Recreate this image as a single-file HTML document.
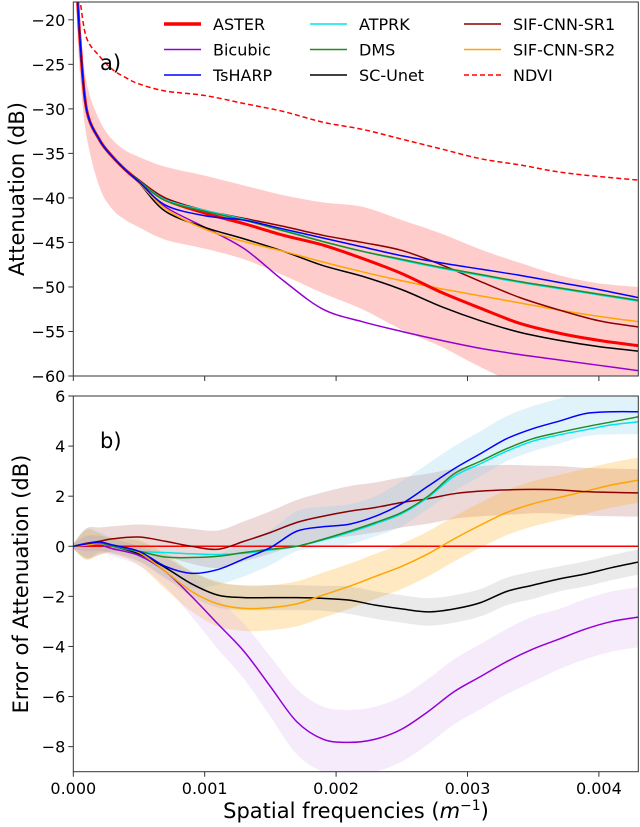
<!DOCTYPE html>
<html><head><meta charset="utf-8"><style>
html,body{margin:0;padding:0;background:#fff;}
svg{display:block;font-family:"DejaVu Sans","Liberation Sans",sans-serif;}
</style></head><body>
<svg id="chart" width="640" height="827" viewBox="0 0 640 827" xmlns="http://www.w3.org/2000/svg">
<defs>
<clipPath id="clipA"><rect x="73.3" y="2" width="565" height="374"/></clipPath>
<clipPath id="clipB"><rect x="73.3" y="396" width="565" height="375.7"/></clipPath>
</defs>
<g id="gA" clip-path="url(#clipA)"></g>
<g id="gB" clip-path="url(#clipB)"></g>
<g id="axes"></g>
<text x="100" y="70" font-size="21">a)</text>
<text x="100" y="448" font-size="21">b)</text>
<text transform="translate(24,189) rotate(-90)" text-anchor="middle" font-size="21">Attenuation (dB)</text>
<text transform="translate(28,584) rotate(-90)" text-anchor="middle" font-size="21">Error of Attenuation (dB)</text>
<text x="356" y="818" text-anchor="middle" font-size="21">Spatial frequencies (<tspan font-style="italic">m</tspan><tspan font-size="14" dy="-8">−1</tspan><tspan dy="8">)</tspan></text>
<g id="legend"></g>
</svg>
<script>
// ---------- data ----------
const xsA = [0,0.00002,0.00005,0.0001,0.0002,0.0003,0.0004,0.0005,0.0007,0.001,0.0013,0.0016,0.0019,0.0022,0.0025,0.0028,0.0031,0.0034,0.0037,0.004,0.0043];
const startA = [-10,-14,-22,-30,-33.5,-35.4,-36.9];
const asterA = startA.concat([-38.1,-40.2,-41.7,-42.9,-44.2,-45.3,-46.8,-48.5,-50.6,-52.4,-54.1,-55.2,-56.0,-56.6]);
const sr1A = startA.concat([-38.0,-40.0,-41.4,-42.3,-43.2,-44.2,-45.0,-45.9,-47.5,-49.4,-51.2,-52.6,-53.8,-54.5]);
const tsharpA = startA.concat([-38.2,-40.8,-42.0,-42.5,-43.5,-44.5,-45.5,-46.5,-47.3,-48.0,-48.7,-49.5,-50.3,-51.2]);
const dmsA = startA.concat([-38.1,-40.3,-41.5,-42.5,-43.7,-44.9,-46.0,-46.9,-47.8,-48.6,-49.4,-50.1,-50.8,-51.5]);
const atprkA = startA.concat([-38.1,-40.2,-41.4,-42.4,-43.6,-44.9,-46.0,-47.0,-47.9,-48.7,-49.5,-50.2,-50.9,-51.6]);
const sr2A = startA.concat([-38.3,-41.2,-43.5,-44.9,-46.0,-47.2,-48.3,-49.3,-50.2,-51.0,-51.8,-52.6,-53.3,-53.9]);
const unetA = startA.concat([-38.3,-41.5,-43.3,-44.6,-46.0,-47.6,-48.8,-50.3,-52.2,-53.8,-55.1,-56.0,-56.7,-57.2]);
const bicubicA = startA.concat([-38.3,-41.0,-43.3,-45.7,-49.3,-52.5,-53.9,-55.0,-56.0,-56.9,-57.6,-58.2,-58.8,-59.4]);
const ndviA = [-5,-16,-17.8,-22,-24.1,-25.6,-26.5,-27.2,-28.0,-28.5,-29.4,-30.3,-31.5,-32.3,-33.4,-34.5,-35.6,-36.3,-37.1,-37.6,-38.0];
const bandUpA = [-10,-14,-20,-27,-31.3,-33.5,-34.7,-35.4,-36.5,-37.5,-38.6,-39.7,-40.5,-41.0,-42.5,-44.0,-45.8,-47.3,-48.7,-49.6,-50.0];
const bandLoA = [-10,-18,-26,-33,-38.8,-41.3,-42.5,-43.3,-44.7,-45.7,-46.9,-48.7,-50.7,-52.5,-54.8,-56.7,-59,-61,-62,-63,-63.5];

const xsB = [0,0.0001,0.0002,0.0003,0.0005,0.0007,0.0009,0.0011,0.0013,0.0015,0.0017,0.0019,0.0021,0.0023,0.0025,0.0027,0.0029,0.0031,0.0033,0.0035,0.0037,0.0039,0.0041,0.0043];
const tsharpB = [0,0.1,0.17,0.05,-0.2,-0.8,-1.08,-0.93,-0.5,-0.05,0.6,0.78,0.88,1.2,1.7,2.4,3.1,3.7,4.3,4.7,5.0,5.3,5.37,5.37];
const dmsB = [0,0.1,0.13,0.0,-0.2,-0.43,-0.45,-0.4,-0.25,-0.12,0.0,0.28,0.6,0.95,1.35,2.0,2.9,3.4,3.9,4.3,4.55,4.77,4.97,5.17];
const atprkB = [0,0.1,0.13,0.0,-0.2,-0.25,-0.3,-0.33,-0.28,-0.15,0.0,0.25,0.55,0.9,1.3,1.95,2.8,3.3,3.8,4.2,4.45,4.65,4.85,4.97];
const sr1B = [0,0.12,0.2,0.3,0.37,0.2,0.0,-0.12,0.2,0.55,0.95,1.2,1.4,1.55,1.75,1.9,2.1,2.2,2.25,2.27,2.25,2.18,2.15,2.13];
const unetB = [0,0.1,0.12,0.0,-0.3,-0.85,-1.5,-1.95,-2.05,-2.05,-2.05,-2.08,-2.15,-2.35,-2.5,-2.62,-2.5,-2.25,-1.8,-1.55,-1.3,-1.1,-0.85,-0.63];
const sr2B = [0,0.05,0.1,0.0,-0.25,-1.0,-1.8,-2.3,-2.48,-2.45,-2.3,-1.95,-1.6,-1.2,-0.8,-0.3,0.3,0.85,1.35,1.7,1.95,2.2,2.45,2.64];
const bicubicB = [0,0.03,0.05,-0.1,-0.37,-1.0,-2.0,-3.1,-4.2,-5.6,-7.0,-7.7,-7.83,-7.7,-7.3,-6.6,-5.8,-5.2,-4.6,-4.1,-3.7,-3.3,-3.0,-2.83];
const asterB = xsB.map(() => 0);
const sr1W = [0.1,0.6,0.55,0.5,0.5,0.6,0.7,0.75,0.8,0.85,0.9,0.95,1.0,1.0,1.0,1.0,1.0,1.0,1.0,0.95,0.95,0.95,0.95,0.95];
const tsharpW = [0.1,0.6,0.4,0.3,0.4,0.5,0.6,0.6,0.7,0.7,0.8,0.8,0.8,0.8,0.9,0.9,0.9,0.9,0.9,0.9,0.9,0.9,0.9,0.9];
const sr2W = [0.1,0.6,0.4,0.3,0.5,0.7,0.8,0.9,0.9,0.9,0.9,0.9,0.9,0.9,0.9,0.9,0.9,0.9,0.9,0.9,0.9,0.9,0.9,0.9];
const unetW = [0.1,0.3,0.3,0.3,0.3,0.4,0.5,0.5,0.5,0.5,0.5,0.5,0.55,0.55,0.55,0.55,0.55,0.55,0.55,0.55,0.5,0.5,0.5,0.5];
const bicubicW = [0.1,0.4,0.3,0.3,0.4,0.6,0.8,1.0,1.1,1.2,1.3,1.3,1.3,1.3,1.3,1.3,1.3,1.3,1.3,1.3,1.2,1.2,1.2,1.2];

const xTicks = [0,0.001,0.002,0.003,0.004];
const xTickLabels = ["0.000","0.001","0.002","0.003","0.004"];
const yTicksA = [-20,-25,-30,-35,-40,-45,-50,-55,-60];
const yTicksB = [6,4,2,0,-2,-4,-6,-8];
const legendNames = ["ASTER","Bicubic","TsHARP","ATPRK","DMS","SC-Unet","SIF-CNN-SR1","SIF-CNN-SR2","NDVI"];

// ---------- scales ----------
const X0 = 73.3, X1 = 638.3, XMAX = 0.0043;
const sx = v => X0 + v / XMAX * (X1 - X0);
const syA = v => 2 + (-18 - v) / 42 * 374;
const syB = v => 396 + (6 - v) / 15 * 375.7;
const NS = "http://www.w3.org/2000/svg";
function mk(tag, attrs, parent) {
  const e = document.createElementNS(NS, tag);
  for (const k in attrs) e.setAttribute(k, attrs[k]);
  parent.appendChild(e);
  return e;
}
const gA = document.getElementById('gA'), gB = document.getElementById('gB'), axes = document.getElementById('axes');
function smooth(pts, first) {
  let d = (first ? 'M' : 'L') + pts[0][0].toFixed(2) + ',' + pts[0][1].toFixed(2);
  for (let i = 0; i < pts.length - 1; i++) {
    const p0 = pts[Math.max(0, i - 1)], p1 = pts[i], p2 = pts[i + 1], p3 = pts[Math.min(pts.length - 1, i + 2)];
    const c1 = [p1[0] + (p2[0] - p0[0]) / 6, p1[1] + (p2[1] - p0[1]) / 6];
    const c2 = [p2[0] - (p3[0] - p1[0]) / 6, p2[1] - (p3[1] - p1[1]) / 6];
    d += 'C' + c1[0].toFixed(2) + ',' + c1[1].toFixed(2) + ' ' + c2[0].toFixed(2) + ',' + c2[1].toFixed(2) + ' ' + p2[0].toFixed(2) + ',' + p2[1].toFixed(2);
  }
  return d;
}
function linePath(xs, ys, sy) { return smooth(xs.map((x, i) => [sx(x), sy(ys[i])]), true); }
function bandPath(xs, up, lo, sy) {
  const a = xs.map((x, i) => [sx(x), sy(up[i])]);
  const b = xs.map((x, i) => [sx(x), sy(lo[i])]).reverse();
  return smooth(a, true) + smooth(b, false) + 'Z';
}

// ---------- panel a ----------
let b = mk('path', {d: bandPath(xsA, bandUpA, bandLoA, syA), fill: '#ff9999', 'fill-opacity': 0.5}, gA);


const seriesA = [
  ['bicubic-line-a', bicubicA, '#9400d3', 1.5],
  ['sc-unet-line-a', unetA, '#000000', 1.5],
  ['sif-cnn-sr2-line-a', sr2A, '#ffa500', 1.5],
  ['aster-line-a', asterA, '#ff0000', 3],
  ['sif-cnn-sr1-line-a', sr1A, '#8b0000', 1.5],
  ['atprk-line-a', atprkA, '#00e5ee', 1.5],
  ['dms-line-a', dmsA, '#228b22', 1.5],
  ['tsharp-line-a', tsharpA, '#0000ff', 1.5]
];
seriesA.forEach(s => {
  const p = mk('path', {d: linePath(xsA, s[1], syA), fill: 'none', stroke: s[2], 'stroke-width': s[3], 'stroke-linejoin': 'round'}, gA);
  
  
});
const nd = mk('path', {d: linePath(xsA, ndviA, syA), fill: 'none', stroke: '#ff0000', 'stroke-width': 1.5, 'stroke-dasharray': '5,3'}, gA);



// ---------- panel b ----------
const bandsB = [
  ['sif-cnn-sr1-band', sr1B, sr1W, '#8b0000', 0.15],
  ['tsharp-band', tsharpB, tsharpW, '#87ceeb', 0.25],
  ['sif-cnn-sr2-band', sr2B, sr2W, '#ffa500', 0.24],
  ['sc-unet-band', unetB, unetW, '#808080', 0.17],
  ['bicubic-band', bicubicB, bicubicW, '#d8b0f0', 0.25]
];
bandsB.forEach(s => {
  const up = s[1].map((v, i) => v + s[2][i]), lo = s[1].map((v, i) => v - s[2][i]);
  const p = mk('path', {d: bandPath(xsB, up, lo, syB), fill: s[3], 'fill-opacity': s[4]}, gB);
  
  
});
const seriesB = [
  ['aster-zero-line-b', asterB, '#ff0000', 1.5],
  ['bicubic-line-b', bicubicB, '#9400d3', 1.5],
  ['sc-unet-line-b', unetB, '#000000', 1.5],
  ['sif-cnn-sr2-line-b', sr2B, '#ffa500', 1.5],
  ['sif-cnn-sr1-line-b', sr1B, '#8b0000', 1.5],
  ['atprk-line-b', atprkB, '#00e5ee', 1.5],
  ['dms-line-b', dmsB, '#228b22', 1.5],
  ['tsharp-line-b', tsharpB, '#0000ff', 1.5]
];
seriesB.forEach(s => {
  const p = mk('path', {d: linePath(xsB, s[1], syB), fill: 'none', stroke: s[2], 'stroke-width': s[3], 'stroke-linejoin': 'round'}, gB);
  
  
});

// ---------- axes ----------
[[2, 376, 'frame-a'], [396, 771.7, 'frame-b']].forEach(f => {
  const r = mk('rect', {x: X0, y: f[0], width: X1 - X0, height: f[1] - f[0], fill: 'none', stroke: '#333', 'stroke-width': 1}, axes);
  
  
});
xTicks.forEach((t, i) => {
  const x = sx(t);
  mk('line', {x1: x, x2: x, y1: 376, y2: 381, stroke: '#333'}, axes);
  mk('line', {x1: x, x2: x, y1: 771.7, y2: 776.7, stroke: '#333'}, axes);
  const tx = mk('text', {x: x, y: 794, 'text-anchor': 'middle', 'font-size': 16}, axes);
  tx.textContent = xTickLabels[i];
  
  
});
yTicksA.forEach(t => {
  const y = syA(t);
  mk('line', {x1: X0 - 5, x2: X0, y1: y, y2: y, stroke: '#333'}, axes);
  const tx = mk('text', {x: X0 - 8, y: y + 6, 'text-anchor': 'end', 'font-size': 16}, axes);
  tx.textContent = String(t).replace('-', '−');
  
  
});
yTicksB.forEach(t => {
  const y = syB(t);
  mk('line', {x1: X0 - 5, x2: X0, y1: y, y2: y, stroke: '#333'}, axes);
  const tx = mk('text', {x: X0 - 8, y: y + 6, 'text-anchor': 'end', 'font-size': 16}, axes);
  tx.textContent = String(t).replace('-', '−');
  
  
});

// ---------- legend ----------
const lg = document.getElementById('legend');
const legColors = ['#ff0000','#9400d3','#0000ff','#00e5ee','#228b22','#000000','#8b0000','#ffa500','#ff0000'];
const legWidths = [3.5,1.5,1.5,1.5,1.5,1.5,1.5,1.5,1.5];
const colX = [164, 310, 464];
legendNames.forEach((n, i) => {
  const c = Math.floor(i / 3), r = i % 3;
  const y = 24 + r * 25.5;
  const l = mk('line', {x1: colX[c], x2: colX[c] + 37, y1: y, y2: y, stroke: legColors[i], 'stroke-width': legWidths[i]}, lg);
  if (n === 'NDVI') l.setAttribute('stroke-dasharray', '5,3');
  
  
  const t = mk('text', {x: colX[c] + 49, y: y + 6, 'font-size': 16}, lg);
  t.textContent = n;
  
  
});
</script>
</body></html>
